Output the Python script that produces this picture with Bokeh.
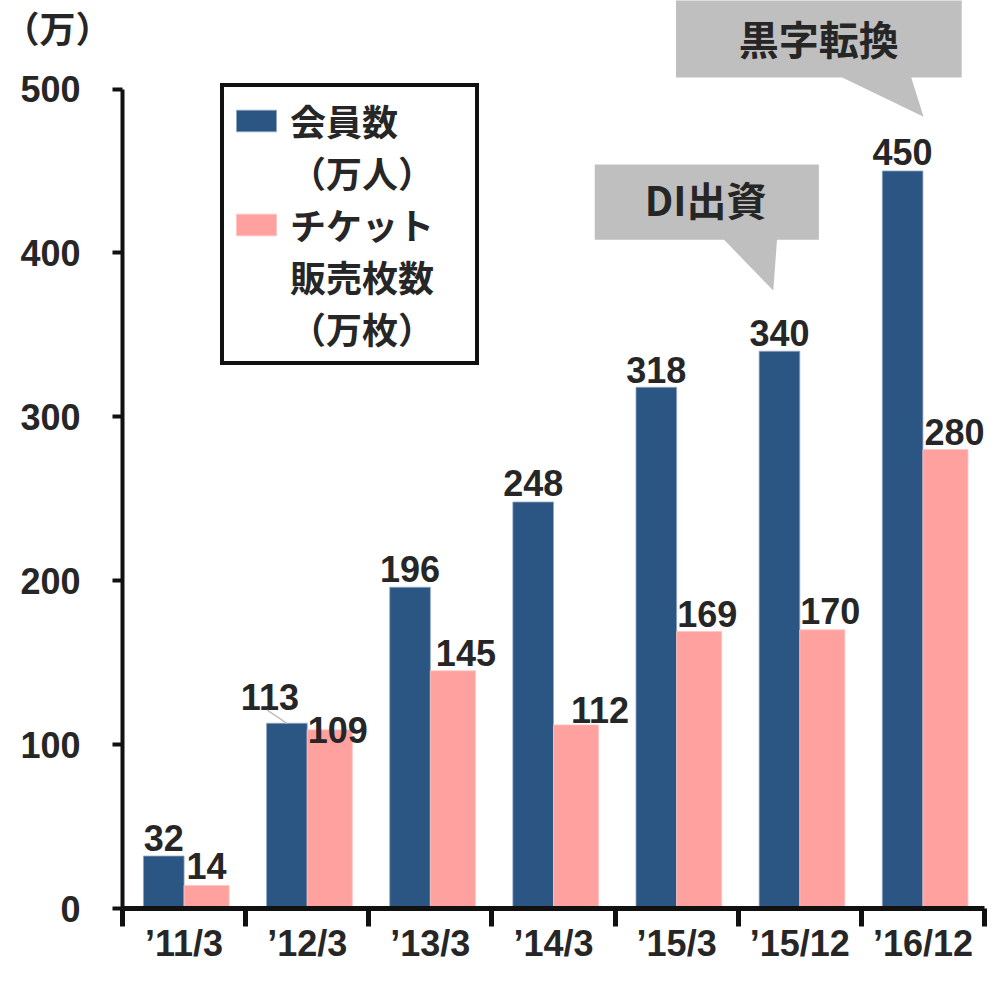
from bokeh.plotting import figure
from bokeh.models import (Range1d, LinearAxis, FixedTicker, Legend, LegendItem,
                          Label, PolyAnnotation, ColumnDataSource)
from bokeh.embed import file_html
from bokeh.resources import INLINE
from bokeh.core.properties import value

# ---------------- data ----------------
periods = ["’11/3", "’12/3", "’13/3", "’14/3", "’15/3", "’15/12", "’16/12"]
members = [32, 113, 196, 248, 318, 340, 450]        # 会員数（万人）
tickets = [14, 109, 145, 112, 169, 170, 280]        # チケット販売枚数（万枚）
y_ticks = [0, 100, 200, 300, 400, 500]
unit_label = "（万）"
members_name = ["会員数", "（万人）"]
tickets_name = ["チケット", "販売枚数", "（万枚）"]
callout_texts = ["DI出資", "黒字転換"]
callout_periods = ["’15/12", "’16/12"]

# ---------------- style ----------------
BLUE = "#2B5583"
PINK = "#FFA19E"
TXT = "#262626"
AX = "#111111"
GREY = "#BFBFBF"
NUM_FONT = "Liberation Sans"
JP_FONT = "Noto Sans CJK JP"
FS = "36px"

n = len(periods)
centers = [i + 0.5 for i in range(n)]
bounds_ = list(range(n + 1))
x_blue = [c - 0.165 for c in centers]
x_pink = [c + 0.183 for c in centers]

p = figure(width=988, height=966, x_range=Range1d(0, n), y_range=Range1d(0, 554),
           output_backend="svg", toolbar_location=None,
           x_axis_location=None, y_axis_location=None,
           min_border_left=116, min_border_right=4, min_border_top=0, min_border_bottom=0)
p.xgrid.visible = False
p.ygrid.visible = False
p.outline_line_color = None
p.background_fill_color = "white"

# axes
xaxis = LinearAxis(ticker=FixedTicker(ticks=centers, minor_ticks=bounds_),
                   major_label_overrides={c: lab for c, lab in zip(centers, periods)})
xaxis.axis_line_width = 5
xaxis.axis_line_color = AX
xaxis.major_tick_out = 0
xaxis.major_tick_in = 0
xaxis.minor_tick_out = 18
xaxis.minor_tick_in = 0
xaxis.minor_tick_line_width = 5
xaxis.minor_tick_line_color = AX
xaxis.major_label_standoff = -4
xaxis.major_label_text_font = NUM_FONT
xaxis.major_label_text_font_size = FS
xaxis.major_label_text_font_style = "bold"
xaxis.major_label_text_color = TXT
p.add_layout(xaxis, "below")

yaxis = LinearAxis(ticker=FixedTicker(ticks=y_ticks, minor_ticks=[]), bounds=(0, 500))
yaxis.axis_line_width = 4
yaxis.axis_line_color = AX
yaxis.major_tick_out = 10
yaxis.major_tick_in = 0
yaxis.major_tick_line_width = 4
yaxis.major_tick_line_color = AX
yaxis.minor_tick_out = 0
yaxis.minor_tick_in = 0
yaxis.major_label_standoff = 32
yaxis.major_label_text_font = NUM_FONT
yaxis.major_label_text_font_size = FS
yaxis.major_label_text_font_style = "bold"
yaxis.major_label_text_color = TXT
# unit label at the top end of the value axis (leading blank line drops it below the edge)
yaxis.axis_label = "\n" + unit_label
yaxis.axis_label_orientation = "horizontal"
yaxis.axis_label_align = "end"
yaxis.axis_label_standoff = -94
yaxis.axis_label_text_font = JP_FONT
yaxis.axis_label_text_font_size = FS
yaxis.axis_label_text_font_style = "bold"
yaxis.axis_label_text_color = TXT
yaxis.axis_label_text_line_height = 1.0
p.add_layout(yaxis, "left")

# bars
r_blue = p.vbar(x=x_blue, top=members, width=0.33, bottom=0,
                fill_color=BLUE, line_color="#8FA6C0", line_width=0.8)
r_pink = p.vbar(x=x_pink, top=tickets, width=0.366, bottom=0,
                fill_color=PINK, line_color="#FFC4C2", line_width=0.8)
r_none = p.vbar(x=[], top=[], width=0.1, fill_alpha=0, line_alpha=0)

# value labels (pixel nudges to follow the original placement)
blue_dx = [0, -17, 0, 0, 0, 0, 0]
blue_dy = [-18, -26, -18, -19, -17, -18, -19]
pink_dx = [0, 8, 13, 24, 8, 8, 9]
pink_dy = [-20, 0, -18, -15, -18, -19, -18]
src_b = ColumnDataSource(dict(x=x_blue, y=members, t=[str(v) for v in members],
                              dx=blue_dx, dy=blue_dy))
src_p = ColumnDataSource(dict(x=x_pink, y=tickets, t=[str(v) for v in tickets],
                              dx=pink_dx, dy=pink_dy))
for src in (src_b, src_p):
    p.text(x="x", y="y", text="t", x_offset="dx", y_offset="dy", source=src,
           text_align="center", text_baseline="alphabetic",
           text_font=value(NUM_FONT), text_font_size=FS, text_font_style="bold",
           text_color=TXT)

# leader line for 113
i113 = 1
p.segment(x0=[x_blue[i113]], y0=[members[i113]], x1=[x_blue[i113] - 0.16],
          y1=[members[i113] + 8], line_color=GREY, line_width=1.5)

# callouts: geometry relative to the anchor (top centre of the blue bar)
shapes = {
    "DI出資": dict(box=(-1.50, 0.32, 68, 114), base=(-0.45, -0.02), tip=(-0.05, 37), text=(-0.60, 93)),
    "黒字転換": dict(box=(-1.84, 0.48, 57, 120), base=(-0.49, 0.07), tip=(0.17, 33), text=(-0.68, 81)),
}
for txt, per in zip(callout_texts, callout_periods):
    i = periods.index(per)
    ax, ay = x_blue[i], members[i]
    g = shapes[txt]
    x0, x1, yb, yt = g["box"]
    b0, b1 = g["base"]
    tx, ty = g["tip"]
    xs = [ax + x0, ax + x1, ax + x1, ax + b1, ax + tx, ax + b0, ax + x0]
    ys = [ay + yt, ay + yt, ay + yb, ay + yb, ay + ty, ay + yb, ay + yb]
    p.add_layout(PolyAnnotation(xs=xs, ys=ys, fill_color=GREY, fill_alpha=1,
                                line_color=None, level="underlay"))
    p.add_layout(Label(x=ax + g["text"][0], y=ay + g["text"][1], text=txt,
                       text_align="center", text_baseline="middle",
                       text_font=JP_FONT, text_font_size="40px", text_font_style="bold",
                       text_color=TXT))

# legend
items = [LegendItem(label=members_name[0], renderers=[r_blue])]
items += [LegendItem(label=t, renderers=[r_none]) for t in members_name[1:]]
items += [LegendItem(label=tickets_name[0], renderers=[r_pink])]
items += [LegendItem(label=t, renderers=[r_none]) for t in tickets_name[1:]]
legend = Legend(items=items, location=(98, 543))
legend.label_text_font = JP_FONT
legend.label_text_font_size = FS
legend.label_text_font_style = "bold"
legend.label_text_color = TXT
legend.label_height = 40
legend.glyph_width = 50
legend.glyph_height = 27
legend.label_standoff = 9
legend.label_width = 178
legend.padding = 7
legend.spacing = 0
legend.margin = 0
legend.border_line_color = AX
legend.border_line_alpha = 1
legend.border_line_width = 4
legend.background_fill_color = "white"
legend.background_fill_alpha = 1
p.add_layout(legend)

open("out.html", "w").write(file_html(p, INLINE))
